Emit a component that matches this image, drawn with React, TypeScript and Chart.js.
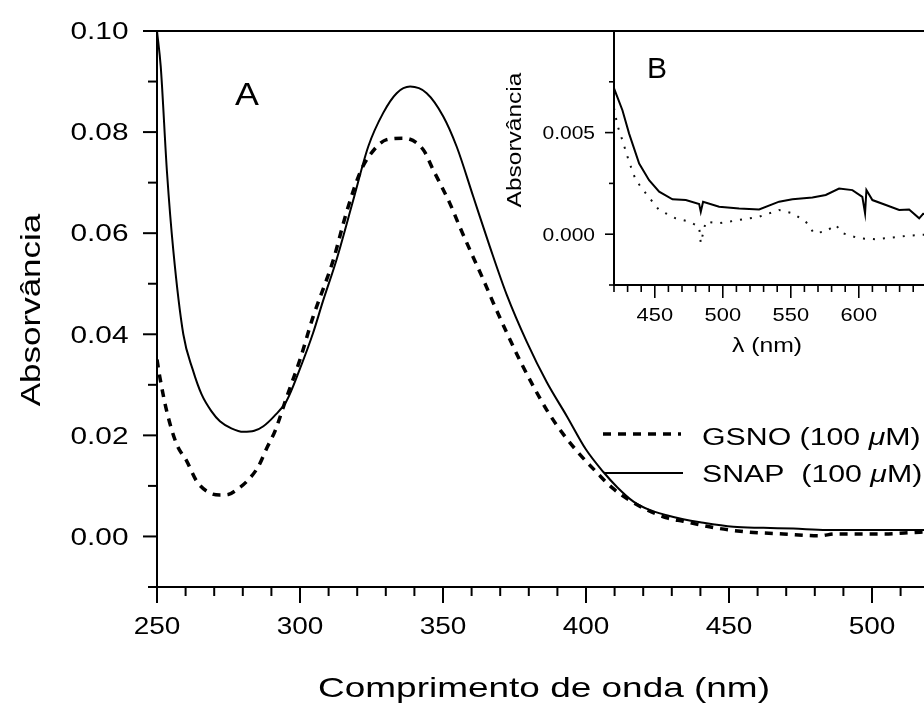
import { useEffect, useRef } from "react";
import { Chart, registerables } from "chart.js";

Chart.register(...registerables);

// ---- Main spectra (panel A) ----
const gsnoWavelength = [
  250, 251, 253.4, 256.9, 260.4, 263.9, 268.5, 272, 274.9, 278, 281.4, 285.5, 288.4, 291.3, 295.3,
  300, 304.6, 309.3, 311.7, 316.3, 321, 324.5, 330.3, 336.1, 343.1, 346.6, 352.4, 355.9, 360.6,
  364.1, 367.6, 372.3, 377, 381.6, 386.3, 392.1, 397.9, 403.7, 409, 415.4, 421.2, 428.2, 434,
  445.7, 457.3, 469, 481.8, 487, 492.3, 504, 516.8, 525,
];
const gsnoAbs = [
  0.035, 0.0315, 0.0248, 0.0182, 0.0149, 0.0109, 0.0086, 0.0082, 0.0083, 0.0093, 0.0109, 0.0139,
  0.0175, 0.0209, 0.0275, 0.035, 0.0435, 0.0508, 0.0548, 0.0642, 0.072, 0.0755, 0.0785, 0.0788,
  0.0765, 0.0725, 0.0659, 0.0612, 0.0552, 0.0508, 0.0462, 0.0403, 0.0347, 0.0297, 0.025, 0.0202,
  0.0162, 0.0127, 0.0097, 0.0071, 0.0053, 0.0037, 0.003, 0.00165, 0.00085, 0.0005, 0.00013, 0.0005,
  0.0005, 0.0005, 0.00085, 0.0009,
];

const snapWavelength = [
  250, 251.3, 253.5, 255.7, 259.2, 262.5, 265.6, 269, 272, 276, 280.2, 284, 287.2, 291, 295.3, 300,
  304.6, 308, 312.8, 318.6, 323.9, 329.1, 333.8, 338.5, 344.3, 350.1, 354.8, 360.6, 366.4, 372.3,
  379.3, 386.3, 393.3, 400, 406, 411, 416.6, 422, 428.2, 434, 439.9, 451.5, 462, 472.5, 484.2,
  495, 505, 516.8, 525,
];
const snapAbs = [
  0.1, 0.093, 0.072, 0.0566, 0.04, 0.033, 0.0281, 0.0248, 0.0228, 0.0214, 0.0207, 0.0209, 0.0218,
  0.0238, 0.0268, 0.0332, 0.0403, 0.0465, 0.0548, 0.0665, 0.0772, 0.0838, 0.0877, 0.089, 0.0877,
  0.0831, 0.0771, 0.0672, 0.0573, 0.0478, 0.0385, 0.0305, 0.0238, 0.0172, 0.0128, 0.0097, 0.0069,
  0.0053, 0.0042, 0.0034, 0.0028, 0.0019, 0.0017, 0.00155, 0.0013, 0.0013, 0.0013, 0.0013, 0.0013,
];

// ---- Inset spectra (panel B) ----
const insetGsnoWavelength = [
  420, 422.5, 426.2, 431.1, 436, 443.4, 453.2, 465.4, 475.2, 482.6, 483.8, 487.5, 497.3, 512,
  526.7, 541.4, 551.2, 561, 567, 575.7, 583, 588, 600, 612.3, 619.9, 629.7, 644.4, 660,
];
const insetGsnoAbs = [
  0.0062, 0.00536, 0.00462, 0.00356, 0.00266, 0.00201, 0.00119, 0.00078, 0.00062, 0.00037,
  -0.00044, 0.00062, 0.00054, 0.0007, 0.00086, 0.00119, 0.00103, 0.00062, 0.00005, 0.00013,
  0.00046, 0.00005, -0.0002, -0.00025, -0.0002, -0.00012, -0.00003, 0.0,
];

const insetSnapWavelength = [
  420.1, 426.2, 431.1, 438.5, 445.8, 453.2, 463, 472.8, 482.6, 483.8, 485.5, 497.3, 512, 526.7,
  541.4, 551.2, 565.9, 575.7, 585.5, 595.3, 602.6, 604.6, 605.6, 610, 619.9, 629.7, 637, 644.4,
  647.3, 660,
];
const insetSnapAbs = [
  0.00716, 0.0061, 0.00495, 0.00348, 0.00266, 0.00209, 0.00172, 0.00168, 0.00149, 0.0011, 0.0016,
  0.00135, 0.00127, 0.00122, 0.0016, 0.00172, 0.00181, 0.00193, 0.00225, 0.00217, 0.00184,
  0.00103, 0.00217, 0.00168, 0.00144, 0.00119, 0.00122, 0.00078, 0.001, 0.0009,
];

// ---- Tick labels ----
const mainXTickLabels = [250, 300, 350, 400, 450, 500];
const mainYTickLabels = [0.0, 0.02, 0.04, 0.06, 0.08, 0.1];
const insetXTickLabels = [450, 500, 550, 600];
const insetYTickLabels = [0.0, 0.005];

const W = 950;
const H = 704;
const FONT = '"Liberation Sans", Arial, Helvetica, sans-serif';

function textWidth(ctx: CanvasRenderingContext2D, text: string, size: number, sx: number, italic = false) {
  ctx.font = `${italic ? "italic " : ""}${size}px ${FONT}`;
  return ctx.measureText(text).width * sx;
}

// Draws text stretched horizontally by sx; align refers to the stretched width.
function drawText(
  ctx: CanvasRenderingContext2D,
  text: string,
  x: number,
  y: number,
  size: number,
  sx: number,
  align: "left" | "center" | "right" = "left",
  italic = false,
) {
  const w = textWidth(ctx, text, size, sx, italic);
  const left = align === "left" ? x : align === "center" ? x - w / 2 : x - w;
  ctx.save();
  ctx.font = `${italic ? "italic " : ""}${size}px ${FONT}`;
  ctx.fillStyle = "#000";
  ctx.textAlign = "left";
  ctx.textBaseline = "alphabetic";
  ctx.translate(left, y);
  ctx.scale(sx, 1);
  ctx.fillText(text, 0, 0);
  ctx.restore();
  return w;
}

function drawRotated(ctx: CanvasRenderingContext2D, text: string, cx: number, cy: number, size: number, sx: number) {
  ctx.save();
  ctx.translate(cx, cy);
  ctx.rotate(-Math.PI / 2);
  ctx.font = `${size}px ${FONT}`;
  const w = ctx.measureText(text).width * sx;
  ctx.translate(-w / 2, size * 0.36);
  ctx.scale(sx, 1);
  ctx.fillStyle = "#000";
  ctx.textAlign = "left";
  ctx.textBaseline = "alphabetic";
  ctx.fillText(text, 0, 0);
  ctx.restore();
}

// Text with an italic micro sign, e.g. "GSNO (100 µM)"
function drawLegendText(ctx: CanvasRenderingContext2D, before: string, x: number, y: number, size: number, sx: number) {
  let cx = x;
  cx += drawText(ctx, before, cx, y, size, sx);
  cx += drawText(ctx, "\u03bc", cx, y, size, sx, "left", true);
  drawText(ctx, "M)", cx, y, size, sx);
}

function line(ctx: CanvasRenderingContext2D, x1: number, y1: number, x2: number, y2: number) {
  ctx.beginPath();
  ctx.moveTo(x1, y1);
  ctx.lineTo(x2, y2);
  ctx.stroke();
}

const mainDecor = {
  id: "mainDecor",
  afterDraw(chart: any) {
    const ctx: CanvasRenderingContext2D = chart.ctx;
    const { left, right, top, bottom } = chart.chartArea;
    const xs = chart.scales.x;
    const ys = chart.scales.y;
    ctx.save();
    ctx.strokeStyle = "#000";
    ctx.lineWidth = 2;
    ctx.setLineDash([]);
    ctx.strokeRect(left, top, right - left, bottom - top);

    // x ticks every 10 nm, longer at labelled values
    for (let v = 250; v <= 520; v += 10) {
      const px = xs.getPixelForValue(v);
      const major = mainXTickLabels.includes(v);
      line(ctx, px, bottom, px, bottom + (major ? 16 : 9));
    }
    mainXTickLabels.forEach((v) => drawText(ctx, String(v), xs.getPixelForValue(v), 634, 23.3, 1.2, "center"));

    // y ticks every 0.01
    for (let i = -1; i <= 10; i++) {
      const v = i * 0.01;
      const py = ys.getPixelForValue(v);
      const major = i % 2 === 0;
      line(ctx, left, py, left - (major ? 14 : 9), py);
    }
    mainYTickLabels.forEach((v) => drawText(ctx, v.toFixed(2), 128.5, ys.getPixelForValue(v) + 8.3, 23.3, 1.28, "right"));

    // axis titles
    drawText(ctx, "Comprimento de onda (nm)", 544, 697, 28, 1.32, "center");
    drawRotated(ctx, "Absorv\u00e2ncia", 30, 310, 28, 1.25);

    // panel letter
    drawText(ctx, "A", 235, 105, 32, 1.12);

    // legend
    ctx.lineWidth = 3.5;
    ctx.setLineDash([8, 7]);
    line(ctx, 603, 434, 681, 434);
    ctx.setLineDash([]);
    ctx.lineWidth = 2;
    line(ctx, 605, 473, 683, 473);
    drawLegendText(ctx, "GSNO (100 ", 702, 445, 23.3, 1.3);
    drawLegendText(ctx, "SNAP  (100 ", 702, 482, 23.3, 1.3);
    ctx.restore();
  },
};

const insetDecor = {
  id: "insetDecor",
  beforeDatasetsDraw(chart: any) {
    const ctx: CanvasRenderingContext2D = chart.ctx;
    const { left, right, top, bottom } = chart.chartArea;
    ctx.save();
    ctx.fillStyle = "#fff";
    ctx.fillRect(left, top, right - left, bottom - top);
    ctx.restore();
  },
  afterDraw(chart: any) {
    const ctx: CanvasRenderingContext2D = chart.ctx;
    const { left, right, top, bottom } = chart.chartArea;
    const xs = chart.scales.x;
    const ys = chart.scales.y;
    ctx.save();
    ctx.strokeStyle = "#000";
    ctx.lineWidth = 2;
    ctx.setLineDash([]);
    ctx.strokeRect(left, top, right - left, bottom - top);

    ctx.lineWidth = 1.6;
    for (let v = 420; v <= 660; v += 10) {
      const px = xs.getPixelForValue(v);
      const major = insetXTickLabels.includes(v);
      line(ctx, px, bottom, px, bottom + (major ? 13 : 7));
    }
    insetXTickLabels.forEach((v) => drawText(ctx, String(v), xs.getPixelForValue(v), 321, 19, 1.15, "center"));

    for (let i = -1; i <= 4; i++) {
      const v = i * 0.0025;
      const py = ys.getPixelForValue(v);
      const major = i % 2 === 0;
      line(ctx, left, py, left - (major ? 9 : 5), py);
    }
    insetYTickLabels.forEach((v) => drawText(ctx, v.toFixed(3), 595, ys.getPixelForValue(v) + 6.3, 17.5, 1.2, "right"));

    drawText(ctx, "\u03bb (nm)", 767, 352, 21, 1.18, "center");
    drawRotated(ctx, "Absorv\u00e2ncia", 514, 140, 19.3, 1.27);
    drawText(ctx, "B", 647, 78, 30, 1.0);
    ctx.restore();
  },
};

function pts(xs: number[], ys: number[]) {
  return xs.map((x, i) => ({ x, y: ys[i] }));
}

export default function App() {
  const mainRef = useRef<HTMLCanvasElement | null>(null);
  const insetRef = useRef<HTMLCanvasElement | null>(null);

  useEffect(() => {
    if (!mainRef.current || !insetRef.current) return;
    const main = new Chart(mainRef.current, {
      type: "line",
      data: {
        datasets: [
          {
            label: "GSNO (100 \u03bcM)",
            data: pts(gsnoWavelength, gsnoAbs),
            borderColor: "#000",
            borderWidth: 3.5,
            borderDash: [8, 7],
            pointRadius: 0,
            cubicInterpolationMode: "monotone",
          },
          {
            label: "SNAP  (100 \u03bcM)",
            data: pts(snapWavelength, snapAbs),
            borderColor: "#000",
            borderWidth: 2,
            pointRadius: 0,
            cubicInterpolationMode: "monotone",
          },
        ],
      },
      options: {
        animation: false,
        responsive: false,
        maintainAspectRatio: false,
        layout: { padding: { left: 157, top: 31, right: W - 943.5, bottom: H - 587 } },
        scales: {
          x: { type: "linear", min: 250, max: 525, display: false },
          y: { type: "linear", min: -0.01, max: 0.1, display: false },
        },
        plugins: { legend: { display: false }, tooltip: { enabled: false } },
      },
      plugins: [mainDecor],
    } as any);

    const inset = new Chart(insetRef.current, {
      type: "line",
      data: {
        datasets: [
          {
            label: "GSNO",
            data: pts(insetGsnoWavelength, insetGsnoAbs),
            borderColor: "#111",
            borderWidth: 2,
            borderDash: [2, 8],
            pointRadius: 0,
            tension: 0,
          },
          {
            label: "SNAP",
            data: pts(insetSnapWavelength, insetSnapAbs),
            borderColor: "#000",
            borderWidth: 2,
            pointRadius: 0,
            tension: 0,
          },
        ],
      },
      options: {
        animation: false,
        responsive: false,
        maintainAspectRatio: false,
        layout: { padding: { left: 614, top: 31, right: W - 940.4, bottom: H - 285 } },
        scales: {
          x: { type: "linear", min: 420, max: 660, display: false },
          y: { type: "linear", min: -0.0025, max: 0.01, display: false },
        },
        plugins: { legend: { display: false }, tooltip: { enabled: false } },
      },
      plugins: [insetDecor],
    } as any);

    return () => {
      main.destroy();
      inset.destroy();
    };
  }, []);

  return (
    <div
      style={{
        position: "fixed",
        left: 0,
        top: 0,
        width: 924,
        height: 704,
        overflow: "hidden",
        background: "#fff",
      }}
    >
      <canvas ref={mainRef} width={W} height={H} style={{ position: "absolute", left: 0, top: 0, width: W, height: H }} />
      <canvas ref={insetRef} width={W} height={H} style={{ position: "absolute", left: 0, top: 0, width: W, height: H }} />
    </div>
  );
}
